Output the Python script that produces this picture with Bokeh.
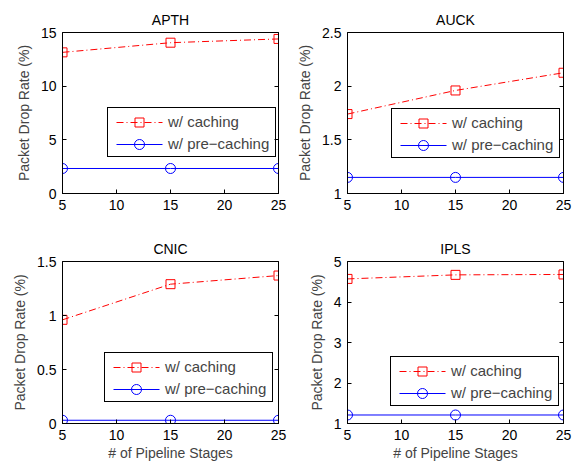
from bokeh.plotting import figure
from bokeh.layouts import gridplot
from bokeh.models import Range1d, FixedTicker, Legend, LegendItem, LinearAxis
from bokeh.embed import file_html
from bokeh.resources import INLINE

FONT = "Liberation Sans"

stages = [5, 15, 25]
xticks = [5, 10, 15, 20, 25]
xlabel = "# of Pipeline Stages"
ylabel = "Packet Drop Rate (%)"
label_caching = "w/ caching"
label_precaching = "w/ pre\u2212caching"

apth_caching = [13.15, 14.05, 14.4]
apth_precaching = [2.33, 2.33, 2.33]
apth_yticks = [0, 5, 10, 15]

auck_caching = [1.74, 1.96, 2.125]
auck_precaching = [1.15, 1.15, 1.15]
auck_yticks = [1, 1.5, 2, 2.5]

cnic_caching = [0.96, 1.29, 1.37]
cnic_precaching = [0.03, 0.03, 0.03]
cnic_yticks = [0, 0.5, 1, 1.5]

ipls_caching = [4.57, 4.67, 4.68]
ipls_precaching = [1.21, 1.21, 1.21]
ipls_yticks = [1, 2, 3, 4, 5]

RED = "#ff0000"
BLUE = "#0000ff"
DASHDOT = "7 3 1 3"

# legend layout (pixels, relative to the plot frame)
LEG_PAD = 3
LEG_GLYPH_W = 52
LEG_ROW_H = 20
LEG_SPACING = 2
LEG_H = 2 * LEG_PAD + 2 * LEG_ROW_H + LEG_SPACING


def fmt(t):
    return f"{t:g}"


def style_axis(ax, ticks, labels=True):
    ax.ticker = FixedTicker(ticks=ticks)
    ax.major_tick_in = 4
    ax.major_tick_out = 0
    ax.minor_tick_line_color = None
    ax.axis_line_color = "black"
    ax.major_tick_line_color = "black"
    if labels:
        ax.major_label_overrides = {t: fmt(t) for t in ticks}
        ax.major_label_text_font = FONT
        ax.major_label_text_font_size = "14px"
        ax.major_label_text_color = "black"
        ax.major_label_standoff = 6
    else:
        ax.major_label_overrides = {t: "" for t in ticks}
        ax.major_label_text_alpha = 0
        ax.major_label_standoff = 0


def panel(title, cach, prec, yticks, show_xlabel, left, right, top, bottom,
          legend_xy, title_standoff):
    W, H = 289, 232
    fw = W - left - right
    fh = H - top - bottom
    p = figure(width=W, height=H, output_backend="svg", toolbar_location=None,
               x_range=Range1d(xticks[0], xticks[-1]),
               y_range=Range1d(yticks[0], yticks[-1]),
               min_border_left=left, min_border_right=right,
               min_border_top=top, min_border_bottom=bottom)
    # frame-pixel scales, used only to place the legend keys
    p.extra_x_ranges = {"px": Range1d(0, fw)}
    p.extra_y_ranges = {"px": Range1d(0, fh)}

    p.title.text = title
    p.title.align = "center"
    p.title.text_font = FONT
    p.title.text_font_size = "14px"
    p.title.text_font_style = "normal"
    p.title.text_color = "black"
    p.title.standoff = title_standoff
    p.grid.visible = False
    p.outline_line_color = "black"
    p.outline_line_alpha = 1

    style_axis(p.xaxis[0], xticks)
    style_axis(p.yaxis[0], yticks)
    p.yaxis[0].axis_label = ylabel
    p.yaxis[0].axis_label_text_font = FONT
    p.yaxis[0].axis_label_text_font_size = "14px"
    p.yaxis[0].axis_label_text_font_style = "normal"
    p.yaxis[0].axis_label_standoff = 6
    if show_xlabel:
        p.xaxis[0].axis_label = xlabel
        p.xaxis[0].axis_label_text_font = FONT
        p.xaxis[0].axis_label_text_font_size = "14px"
        p.xaxis[0].axis_label_text_font_style = "normal"
        p.xaxis[0].axis_label_standoff = 2

    ra = LinearAxis()
    style_axis(ra, yticks, labels=False)
    p.add_layout(ra, "right")

    # data
    p.line(stages, cach, line_color=RED, line_dash=DASHDOT, line_width=1)
    p.scatter(stages, cach, marker="square", size=9, fill_color=None,
              line_color=RED, line_width=1)
    p.line(stages, prec, line_color=BLUE, line_width=1)
    p.scatter(stages, prec, marker="circle", size=10, fill_color=None,
              line_color=BLUE, line_width=1)

    # legend box and labels
    lx, ly = legend_xy
    lg = Legend(items=[LegendItem(label=label_caching, renderers=[]),
                       LegendItem(label=label_precaching, renderers=[])])
    lg.location = legend_xy
    lg.border_line_color = "black"
    lg.border_line_width = 1
    lg.border_line_alpha = 1
    lg.background_fill_alpha = 0
    lg.label_text_font = FONT
    lg.label_text_font_size = "15px"
    lg.glyph_width = LEG_GLYPH_W
    lg.glyph_height = LEG_ROW_H
    lg.label_height = LEG_ROW_H
    lg.label_width = 104
    lg.label_standoff = 5
    lg.spacing = LEG_SPACING
    lg.padding = LEG_PAD
    lg.margin = 0
    p.add_layout(lg, "center")

    # legend keys
    kx0 = lx + LEG_PAD + 6
    kx1 = lx + LEG_PAD + LEG_GLYPH_W
    kxm = lx + LEG_PAD + 29
    ky1 = ly + LEG_H - LEG_PAD - LEG_ROW_H / 2
    ky2 = ly + LEG_PAD + LEG_ROW_H / 2
    p.line([kx0, kx1], [ky1, ky1], line_color=RED, line_dash=DASHDOT, line_width=1,
           x_range_name="px", y_range_name="px")
    p.scatter([kxm], [ky1], marker="square", size=9, fill_color=None,
              line_color=RED, line_width=1, x_range_name="px", y_range_name="px")
    p.line([kx0, kx1], [ky2, ky2], line_color=BLUE, line_width=1,
           x_range_name="px", y_range_name="px")
    p.scatter([kxm], [ky2], marker="circle", size=10, fill_color=None,
              line_color=BLUE, line_width=1, x_range_name="px", y_range_name="px")
    return p


p1 = panel("APTH", apth_caching, apth_precaching, apth_yticks, False, 62, 11, 32, 39, (45, 36), 10)
p2 = panel("AUCK", auck_caching, auck_precaching, auck_yticks, False, 58, 15, 32, 39, (44, 35), 10)
p3 = panel("CNIC", cnic_caching, cnic_precaching, cnic_yticks, True, 62, 11, 29, 41, (42, 21), 10)
p4 = panel("IPLS", ipls_caching, ipls_precaching, ipls_yticks, True, 58, 15, 29, 41, (43, 17), 10)

grid = gridplot([[p1, p2], [p3, p4]], toolbar_location=None)

open("out.html", "w").write(file_html(grid, INLINE))
